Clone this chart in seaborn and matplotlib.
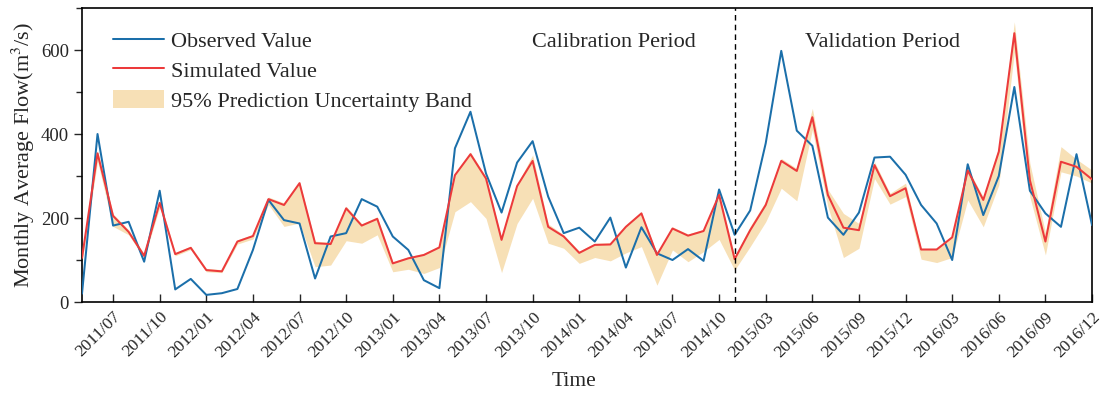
import numpy as np
import pandas as pd
import matplotlib
matplotlib.use("Agg")
import matplotlib.pyplot as plt
from matplotlib.patches import Patch
from matplotlib.lines import Line2D
from matplotlib.ticker import MultipleLocator
import matplotlib.transforms as mtransforms
import seaborn as sns

# ---- data ----
observed = [20, 400, 182, 191, 96, 265, 30, 55, 17, 21, 31, 124,
            243, 195, 187, 56, 156, 164, 245, 227, 156, 124, 52, 33,
            366, 453, 306, 213, 332, 383, 251, 164, 177, 144, 201, 82,
            178, 116, 100, 126, 98, 268, 160, 218, 378, 598, 408, 372,
            201, 160, 213, 344, 346, 303, 231, 187, 100, 328, 207, 300,
            512, 265, 211, 179, 352, 183]
simulated = [105, 354, 205, 167, 110, 236, 114, 129, 76, 73, 144, 157,
             245, 231, 283, 140, 138, 223, 182, 198, 92, 104, 112, 130,
             302, 352, 294, 148, 276, 336, 179, 156, 117, 136, 137, 179,
             211, 112, 175, 158, 169, 255, 102, 171, 231, 336, 312, 440,
             255, 177, 171, 326, 252, 271, 125, 125, 154, 313, 243, 358,
             640, 290, 144, 334, 322, 292]
band_lower = [95, 335, 180, 160, 105, 225, 110, 125, 72, 70, 138, 150,
              232, 180, 188, 84, 88, 146, 140, 160, 72, 78, 68, 82,
              215, 239, 199, 70, 187, 247, 140, 128, 92, 106, 98, 117,
              132, 40, 124, 96, 120, 149, 76, 132, 191, 271, 241, 410,
              227, 106, 128, 294, 233, 251, 102, 94, 106, 243, 179, 279,
              595, 250, 112, 310, 300, 283]
band_upper = [110, 360, 210, 172, 115, 242, 118, 133, 80, 77, 148, 161,
              250, 236, 287, 145, 142, 228, 186, 203, 96, 108, 116, 134,
              306, 357, 298, 152, 280, 350, 186, 160, 121, 140, 141, 183,
              215, 116, 179, 162, 173, 260, 110, 180, 240, 342, 318, 461,
              268, 211, 187, 334, 259, 283, 128, 128, 156, 318, 250, 370,
              667, 330, 165, 370, 340, 314]
tick_labels = ["2011/07", "2011/10", "2012/01", "2012/04", "2012/07", "2012/10",
               "2013/01", "2013/04", "2013/07", "2013/10", "2014/01", "2014/04",
               "2014/07", "2014/10", "2015/03", "2015/06", "2015/09", "2015/12",
               "2016/03", "2016/06", "2016/09", "2016/12"]
tick_positions = list(range(2, 66, 3))
split_index = 42

df = pd.DataFrame({"idx": np.arange(len(observed)),
                   "obs": observed, "sim": simulated,
                   "lo": band_lower, "hi": band_upper})

sns.set_style("ticks")
plt.rcParams["font.family"] = ["Liberation Serif", "DejaVu Serif"]
plt.rcParams["mathtext.fontset"] = "stix"

blue = "#1B6FAA"
red = "#EC3A3B"
tan = "#F7E0B6"

fig = plt.figure(figsize=(11.08, 3.95), dpi=100)
ax = fig.add_axes([0.074, 0.2354, 0.9116, 0.7443])

ax.fill_between(df["idx"], df["lo"], df["hi"], color=tan, linewidth=0, zorder=1)
sns.lineplot(data=df, x="idx", y="obs", ax=ax, color=blue, linewidth=1.45, zorder=3)
sns.lineplot(data=df, x="idx", y="sim", ax=ax, color=red, linewidth=1.45, zorder=4)
ax.axvline(split_index, color="black", linestyle=(0, (4, 3)), linewidth=1.0, zorder=5)

ax.set_xlim(0, len(observed) - 1)
ax.set_ylim(0, 700)
ax.set_yticks([0, 200, 400, 600])
ax.yaxis.set_minor_locator(MultipleLocator(100))
ax.set_xticks(tick_positions)
ax.set_xticklabels(tick_labels, rotation=45, ha="right", rotation_mode="anchor")
offset = mtransforms.ScaledTranslation(10 / 100, 2 / 100, fig.dpi_scale_trans)
for lbl in ax.get_xticklabels():
    lbl.set_transform(lbl.get_transform() + offset)
ax.tick_params(axis="x", direction="in", length=6, width=1.0, labelsize=12.5, pad=5)
ax.tick_params(axis="y", which="major", direction="out", length=6, width=1.0, labelsize=13.5)
ax.tick_params(axis="y", which="minor", direction="out", length=4, width=1.0)
for s in ax.spines.values():
    s.set_visible(True)
    s.set_linewidth(1.2)
    s.set_color("black")

ax.set_xlabel("Time", fontsize=15.5)
ax.xaxis.set_label_coords(0.487, -0.238)
ax.set_ylabel("Monthly Average Flow(m$^3$/s)", fontsize=16, labelpad=3)

handles = [Line2D([], [], color=blue, linewidth=1.45),
           Line2D([], [], color=red, linewidth=1.45),
           Patch(facecolor=tan, edgecolor="none")]
ax.legend(handles, ["Observed Value", "Simulated Value", "95% Prediction Uncertainty Band"],
          loc="upper left", bbox_to_anchor=(0.031, 0.925), frameon=False, fontsize=16,
          handlelength=2.27, handleheight=0.9, labelspacing=0.36, handletextpad=0.32,
          borderaxespad=0, borderpad=0)

ax.text(0.527, 0.882, "Calibration Period", transform=ax.transAxes, ha="center",
        va="center", fontsize=16)
ax.text(0.793, 0.882, "Validation Period", transform=ax.transAxes, ha="center",
        va="center", fontsize=16)

fig.savefig("out.png", dpi=100)
